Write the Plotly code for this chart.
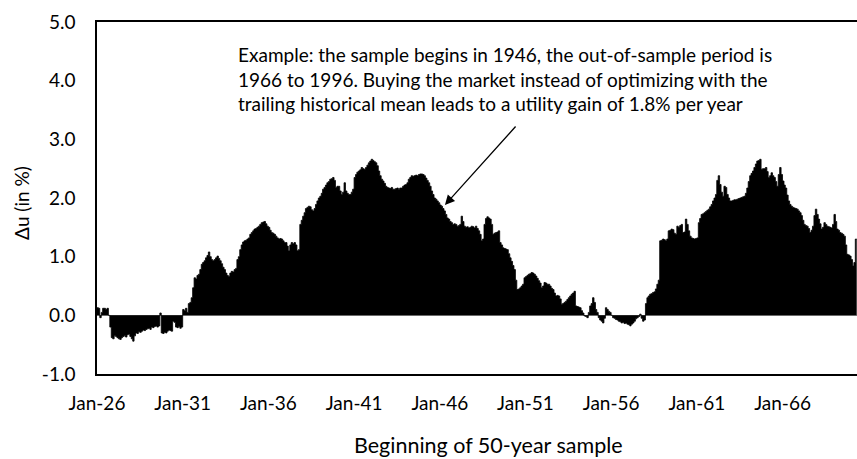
import pandas as pd
import plotly.graph_objects as go

# ---- data (monthly utility difference, in %), first month = Jan 1926 ----
start_month = "1926-01-01"
du_values = [
    # 1926
    0.13, 0.12, -0.04, 0.05, 0.12, 0.12, 0.10, 0.12, 0.00, -0.20, -0.38, -0.40,
    # 1927
    -0.35, -0.36, -0.38, -0.40, -0.41, -0.38, -0.36, -0.35, -0.37, -0.33, -0.32, -0.36,
    # 1928
    -0.40, -0.44, -0.35, -0.30, -0.31, -0.28, -0.29, -0.27, -0.25, -0.26, -0.24, -0.23,
    # 1929
    -0.22, -0.24, -0.20, -0.21, -0.19, -0.18, -0.20, -0.18, 0.04, -0.30, -0.31, -0.29,
    # 1930
    -0.30, -0.27, -0.25, -0.26, -0.27, -0.10, -0.12, -0.20, -0.21, -0.19, -0.22, -0.20,
    # 1931
    0.10, 0.08, 0.12, 0.05, 0.20, 0.22, 0.30, 0.47, 0.64, 0.62, 0.68, 0.70,
    # 1932
    0.78, 0.87, 0.90, 0.93, 0.98, 1.02, 1.08, 1.00, 0.95, 0.93, 0.95, 0.98,
    # 1933
    1.01, 0.97, 0.93, 0.88, 0.82, 0.78, 0.72, 0.68, 0.66, 0.72, 0.75, 0.74,
    # 1934
    0.78, 0.80, 0.95, 1.00, 1.12, 1.20, 1.25, 1.27, 1.28, 1.30, 1.32, 1.38,
    # 1935
    1.41, 1.44, 1.47, 1.48, 1.50, 1.52, 1.55, 1.58, 1.59, 1.60, 1.56, 1.52,
    # 1936
    1.50, 1.45, 1.41, 1.40, 1.38, 1.35, 1.32, 1.30, 1.31, 1.30, 1.27, 1.24,
    # 1937
    1.24, 1.18, 1.10, 1.20, 1.24, 1.22, 1.24, 1.20, 1.10, 1.12, 1.55, 1.62,
    # 1938
    1.69, 1.75, 1.82, 1.84, 1.86, 1.85, 1.80, 1.78, 1.82, 1.89, 1.95, 2.00,
    # 1939
    2.03, 2.08, 2.15, 2.18, 2.22, 2.26, 2.28, 2.32, 2.33, 2.35, 2.30, 2.18,
    # 1940
    2.20, 2.20, 2.12, 2.06, 2.10, 2.26, 2.12, 2.08, 2.06, 2.06, 2.10, 2.15,
    # 1941
    2.35, 2.40, 2.44, 2.46, 2.48, 2.52, 2.50, 2.49, 2.52, 2.56, 2.60, 2.63,
    # 1942
    2.66, 2.64, 2.62, 2.60, 2.55, 2.46, 2.38, 2.32, 2.29, 2.25, 2.20, 2.18,
    # 1943
    2.17, 2.16, 2.18, 2.15, 2.15, 2.16, 2.17, 2.15, 2.17, 2.17, 2.20, 2.22,
    # 1944
    2.23, 2.26, 2.32, 2.35, 2.38, 2.37, 2.38, 2.39, 2.38, 2.40, 2.41, 2.41,
    # 1945
    2.40, 2.38, 2.34, 2.30, 2.26, 2.20, 2.12, 2.06, 2.00, 1.98, 1.95, 1.92,
    # 1946
    1.88, 1.86, 1.82, 1.78, 1.72, 1.66, 1.64, 1.60, 1.58, 1.55, 1.56, 1.55,
    # 1947
    1.52, 1.53, 1.55, 1.69, 1.60, 1.52, 1.50, 1.51, 1.49, 1.50, 1.52, 1.51,
    # 1948
    1.49, 1.52, 1.48, 1.44, 1.38, 1.27, 1.30, 1.55, 1.65, 1.68, 1.66, 1.64,
    # 1949
    1.55, 1.38, 1.40, 1.41, 1.42, 1.44, 1.24, 1.20, 1.15, 1.14, 1.13, 1.12,
    # 1950
    1.05, 0.98, 0.92, 0.85, 0.78, 0.60, 0.44, 0.45, 0.47, 0.50, 0.53, 0.64,
    # 1951
    0.66, 0.68, 0.70, 0.71, 0.73, 0.72, 0.70, 0.67, 0.63, 0.59, 0.55, 0.47,
    # 1952
    0.50, 0.56, 0.55, 0.53, 0.53, 0.50, 0.46, 0.44, 0.38, 0.33, 0.34, 0.33,
    # 1953
    0.28, 0.19, 0.20, 0.22, 0.24, 0.27, 0.30, 0.33, 0.36, 0.38, 0.41, 0.16,
    # 1954
    0.15, 0.14, 0.13, 0.08, 0.04, -0.01, -0.02, -0.04, 0.05, 0.16, 0.20, 0.30,
    # 1955
    0.22, 0.10, 0.05, -0.04, -0.08, -0.10, -0.13, -0.05, 0.13, 0.10, 0.07, 0.05,
    # 1956
    0.00, -0.04, -0.05, -0.07, -0.08, -0.10, -0.11, -0.13, -0.12, -0.14, -0.13, -0.15,
    # 1957
    -0.16, -0.18, -0.15, -0.13, -0.10, -0.06, -0.04, -0.02, 0.02, -0.05, -0.10, -0.08,
    # 1958
    0.20, 0.30, 0.33, 0.36, 0.37, 0.39, 0.40, 0.45, 0.53, 0.60, 1.27, 1.28,
    # 1959
    1.30, 1.29, 1.27, 1.30, 1.44, 1.45, 1.47, 1.46, 1.40, 1.38, 1.52, 1.50,
    # 1960
    1.53, 1.55, 1.41, 1.42, 1.64, 1.55, 1.44, 1.35, 1.32, 1.31, 1.30, 1.31,
    # 1961
    1.32, 1.58, 1.65, 1.72, 1.73, 1.75, 1.77, 1.79, 1.81, 1.85, 1.89, 1.95,
    # 1962
    2.00, 2.06, 2.30, 2.38, 2.23, 2.10, 2.03, 2.20, 2.18, 2.06, 2.00, 1.95,
    # 1963
    1.95, 1.96, 1.97, 1.97, 1.98, 1.99, 2.00, 2.01, 2.02, 2.03, 2.08, 2.17,
    # 1964
    2.28, 2.38, 2.42, 2.46, 2.52, 2.58, 2.63, 2.64, 2.66, 2.49, 2.50, 2.50,
    # 1965
    2.52, 2.45, 2.35, 2.38, 2.43, 2.38, 2.35, 2.28, 2.20, 2.40, 2.52, 2.40,
    # 1966
    2.29, 2.22, 2.17, 2.05, 1.95, 1.89, 1.86, 1.84, 1.83, 1.82, 1.81, 1.78,
    # 1967
    1.75, 1.70, 1.62, 1.55, 1.53, 1.52, 1.48, 1.41, 1.45, 1.52, 1.70, 1.81,
    # 1968
    1.72, 1.64, 1.56, 1.47, 1.50, 1.58, 1.55, 1.52, 1.51, 1.50, 1.49, 1.55,
    # 1969
    1.72, 1.60, 1.47, 1.45, 1.41, 1.40, 1.38, 1.35, 1.20, 1.04, 1.03, 1.01,
    # 1970
    0.95, 0.84, 0.90, 1.30, 1.30,
]

x_tick_dates = ["1926-01-01", "1931-01-01", "1936-01-01", "1941-01-01", "1946-01-01",
                "1951-01-01", "1956-01-01", "1961-01-01", "1966-01-01"]
x_tick_labels = ["Jan-26", "Jan-31", "Jan-36", "Jan-41", "Jan-46",
                 "Jan-51", "Jan-56", "Jan-61", "Jan-66"]
y_tick_values = [-1, 0, 1, 2, 3, 4, 5]
y_tick_labels = ["-1.0", "0.0", "1.0", "2.0", "3.0", "4.0", "5.0"]

x_axis_title = "Beginning of 50-year sample"
y_axis_title = "\u0394u (in %)"
note_text = ("Example: the sample begins in 1946, the out-of-sample period is<br>"
             "1966 to 1996. Buying the market instead of optimizing with the<br>"
             "trailing historical mean leads to a utility gain of 1.8% per year")
note_point_date = "1946-04-21"
note_point_value = 1.88

dates = pd.date_range(start_month, periods=len(du_values), freq="MS")

FONT = "Lato, 'Open Sans', sans-serif"

fig = go.Figure()
fig.add_trace(go.Scatter(
    x=dates, y=du_values,
    mode="lines", line=dict(shape="hv", color="black", width=0.8),
    fill="tozeroy", fillcolor="black",
    hoverinfo="x+y", showlegend=False,
))

fig.update_layout(
    width=857, height=459,
    margin=dict(l=97, r=0, t=22, b=85),
    paper_bgcolor="white", plot_bgcolor="white",
    font=dict(family=FONT, color="black", size=19),
    showlegend=False,
    xaxis=dict(
        type="date",
        range=["1926-01-01", "1970-05-07"],
        tickvals=x_tick_dates, ticktext=x_tick_labels,
        showline=True, linecolor="black", linewidth=1.5, mirror=True,
        showgrid=False, zeroline=False, ticks="",
        tickfont=dict(family=FONT, size=19, color="black"),
        ticklabelstandoff=11,
    ),
    yaxis=dict(
        range=[-1, 5],
        tickvals=y_tick_values, ticktext=y_tick_labels,
        showline=True, linecolor="black", linewidth=1.5, mirror=False,
        showgrid=False, zeroline=True, zerolinecolor="#8c8c8c", zerolinewidth=1,
        ticks="",
        tickfont=dict(family=FONT, size=19, color="black"),
        ticklabelstandoff=16,
    ),
)

fig.add_annotation(
    xref="paper", yref="paper", x=(236 - 97) / 760, y=(374 - 79) / 352,
    xanchor="left", yanchor="middle", align="left",
    text=note_text, showarrow=False,
    font=dict(family=FONT, size=19, color="black"),
)
fig.add_annotation(
    x=note_point_date, y=note_point_value, xref="x", yref="y",
    text="", showarrow=True, ax=72, ay=-80,
    arrowhead=2, arrowsize=1.5, arrowwidth=1.3, arrowcolor="black",
)
fig.add_annotation(
    xref="paper", yref="paper", x=(488 - 97) / 760, y=(374 - 445) / 352,
    xanchor="center", yanchor="middle", showarrow=False,
    text=x_axis_title, font=dict(family=FONT, size=21.5, color="black"),
)
fig.add_annotation(
    xref="paper", yref="paper", x=(21 - 97) / 760, y=(374 - 203) / 352,
    xanchor="center", yanchor="middle", showarrow=False, textangle=-90,
    text=y_axis_title, font=dict(family=FONT, size=19, color="black"),
)

fig.write_html(
    "out.html",
    config={"displayModeBar": False},
    post_script="document.body.style.margin='0px';document.body.style.overflow='hidden';",
)
